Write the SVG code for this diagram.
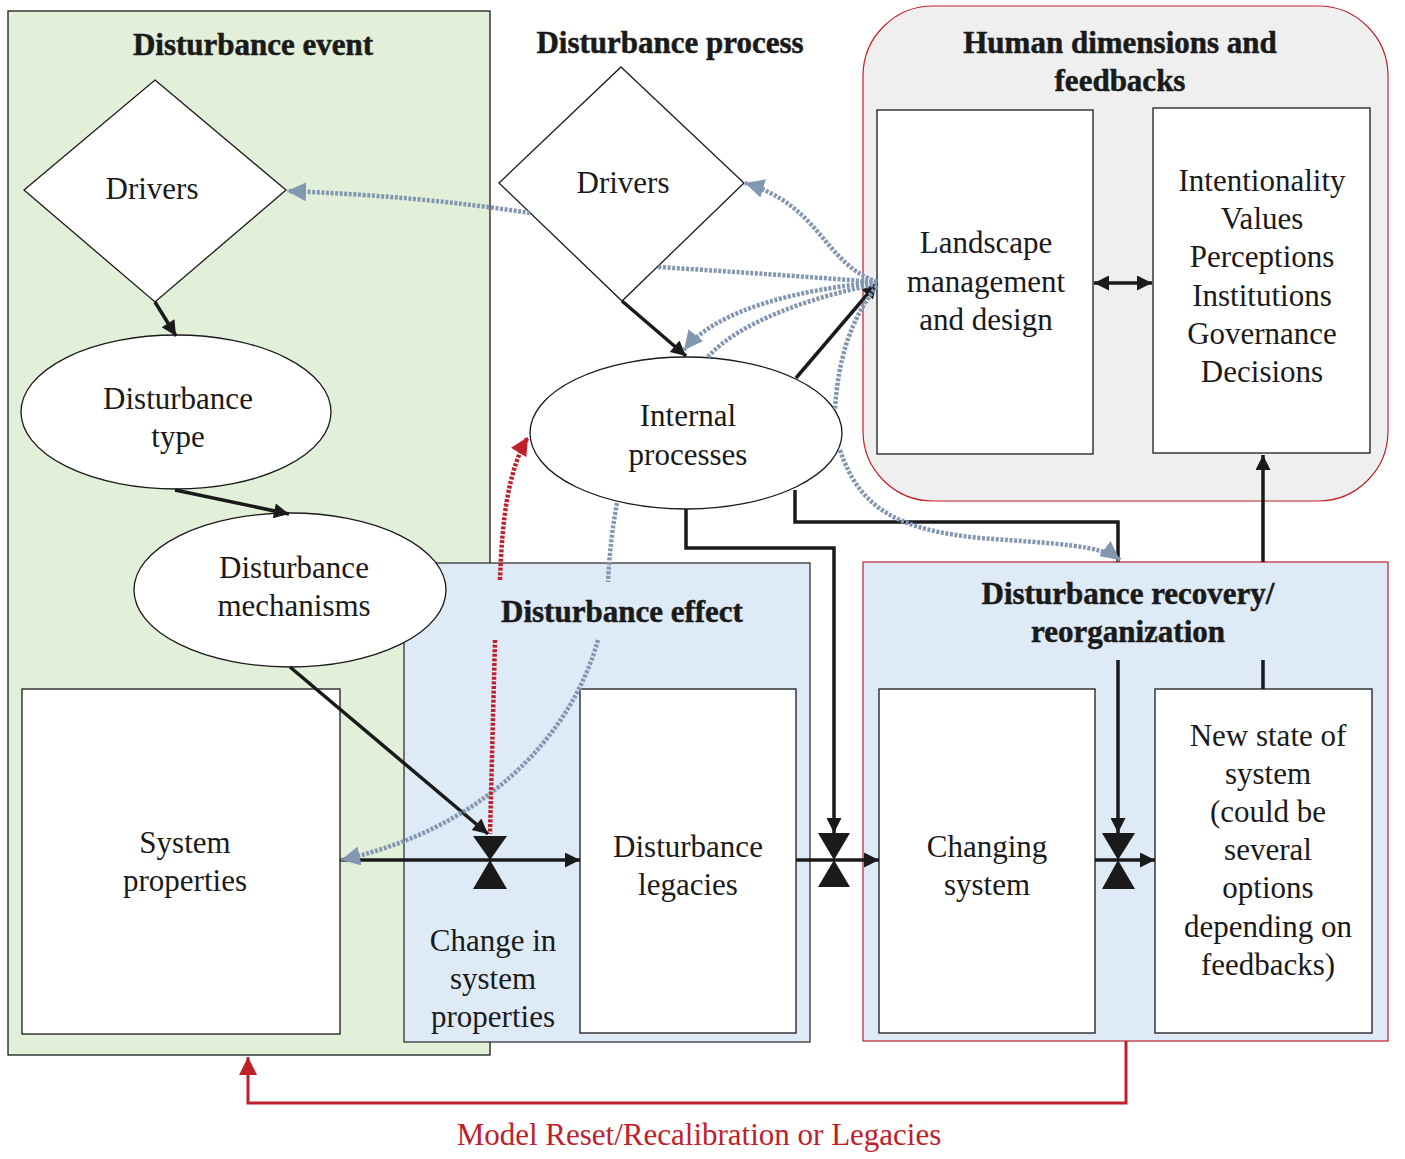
<svg xmlns="http://www.w3.org/2000/svg" width="1405" height="1159" viewBox="0 0 1405 1159">
<style>
text{font-family:"Liberation Serif","Times New Roman",serif;font-size:31px;fill:#1a1a1a;text-anchor:middle}
.t{font-weight:bold;stroke:#1a1a1a;stroke-width:0.5}
.red{fill:#c0202a}
.node{fill:#fff;stroke:#1a1a1a;stroke-width:1.3}
.blk{fill:none;stroke:#1a1a1a;stroke-width:3.5}
.dot{fill:none;stroke:#8497b0;stroke-width:4.5;stroke-dasharray:3 1.6}
.rdot{fill:none;stroke:#c0202a;stroke-width:4.5;stroke-dasharray:3 1.6}
.valve{fill:#1a1a1a}
</style>
<defs>
<marker id="ab" viewBox="0 0 10 10" refX="10" refY="5" markerWidth="17" markerHeight="15" markerUnits="userSpaceOnUse" orient="auto-start-reverse"><path d="M0,0 L10,5 L0,10 z" fill="#1a1a1a"/></marker>
<marker id="abl" viewBox="0 0 10 10" refX="10" refY="5" markerWidth="19" markerHeight="19" markerUnits="userSpaceOnUse" orient="auto"><path d="M0,0 L10,5 L0,10 z" fill="#8497b0"/></marker>
<marker id="ar" viewBox="0 0 10 10" refX="10" refY="5" markerWidth="19" markerHeight="18" markerUnits="userSpaceOnUse" orient="auto"><path d="M0,0 L10,5 L0,10 z" fill="#c0202a"/></marker>
</defs>

<g id="group-event">
<rect x="8" y="11" width="482" height="1044" fill="#e2efd9" stroke="#1a1a1a" stroke-width="1.3"/>
<text class="t" x="253" y="55">Disturbance event</text>
</g>
<g id="group-process-title"><text class="t" x="670" y="53">Disturbance process</text></g>
<g id="group-human">
<rect x="863" y="6" width="525" height="495" rx="70" fill="#efefef" stroke="#c0202a" stroke-width="1.2"/>
<text class="t" x="1120" y="53">Human dimensions and</text>
<text class="t" x="1120" y="91">feedbacks</text>
</g>
<g id="group-effect">
<rect x="404" y="563" width="406" height="479" fill="#deebf7" stroke="#333" stroke-width="1.3"/>
<text class="t" x="622" y="622">Disturbance effect</text>
</g>
<g id="group-recovery">
<rect x="863" y="562" width="525" height="479" fill="#deebf7" stroke="#c0202a" stroke-width="1.2"/>
<text class="t" x="1128" y="604">Disturbance recovery/</text>
<text class="t" x="1128" y="642">reorganization</text>
</g>

<g id="drivers-event">
<polygon class="node" points="155,80 286,190 155,302 24,190"/>
<text x="152" y="199">Drivers</text>
</g>
<g id="drivers-process">
<polygon class="node" points="621,67 744,183 622,301 499,183"/>
<text x="623" y="193">Drivers</text>
</g>
<g id="disturbance-type">
<ellipse class="node" cx="176" cy="412" rx="155" ry="77"/>
<text x="178" y="409">Disturbance</text>
<text x="178" y="447">type</text>
</g>
<g id="disturbance-mechanisms">
<ellipse class="node" cx="290" cy="590" rx="156" ry="77"/>
<text x="294" y="578">Disturbance</text>
<text x="294" y="616">mechanisms</text>
</g>
<g id="internal-processes">
<ellipse class="node" cx="686" cy="433" rx="156" ry="76"/>
<text x="688" y="426">Internal</text>
<text x="688" y="465">processes</text>
</g>
<g id="system-properties">
<rect class="node" x="22" y="689" width="318" height="345"/>
<text x="185" y="853">System</text>
<text x="185" y="891">properties</text>
</g>
<g id="disturbance-legacies">
<rect class="node" x="580" y="689" width="216" height="344"/>
<text x="688" y="857">Disturbance</text>
<text x="688" y="895">legacies</text>
</g>
<g id="change-label">
<text x="493" y="951">Change in</text>
<text x="493" y="989">system</text>
<text x="493" y="1027">properties</text>
</g>
<g id="changing-system">
<rect class="node" x="879" y="689" width="216" height="344"/>
<text x="987" y="857">Changing</text>
<text x="987" y="895">system</text>
</g>
<g id="new-state">
<rect class="node" x="1155" y="689" width="217" height="344"/>
<text x="1268" y="746">New state of</text>
<text x="1268" y="784">system</text>
<text x="1268" y="822">(could be</text>
<text x="1268" y="860">several</text>
<text x="1268" y="898">options</text>
<text x="1268" y="937">depending on</text>
<text x="1268" y="975">feedbacks)</text>
</g>
<g id="landscape">
<rect class="node" x="877" y="110" width="216" height="344"/>
<text x="986" y="253">Landscape</text>
<text x="986" y="292">management</text>
<text x="986" y="330">and design</text>
</g>
<g id="intentionality">
<rect class="node" x="1153" y="108" width="217" height="345"/>
<text x="1262" y="191">Intentionality</text>
<text x="1262" y="229">Values</text>
<text x="1262" y="267">Perceptions</text>
<text x="1262" y="306">Institutions</text>
<text x="1262" y="344">Governance</text>
<text x="1262" y="382">Decisions</text>
</g>

<g id="connectors">
<path class="blk" d="M155,302 L176,336" marker-end="url(#ab)"/>
<path class="blk" d="M175,490 L289,514" marker-end="url(#ab)"/>
<path class="blk" d="M290,667 L488,834" marker-end="url(#ab)"/>
<path class="blk" d="M340,860 L580,860" marker-end="url(#ab)" stroke-width="3"/>
<path class="blk" d="M686,509 L686,548 L834,548 L834,833" marker-end="url(#ab)"/>
<path class="blk" d="M796,860 L879,860" marker-end="url(#ab)" stroke-width="3"/>
<path class="blk" d="M1118,660 L1118,833" marker-end="url(#ab)"/>
<path class="blk" d="M1095,860 L1155,860" marker-end="url(#ab)" stroke-width="3"/>
<path class="blk" d="M622,301 L686,356" marker-end="url(#ab)"/>
<path class="blk" d="M796,378 L877,283" marker-end="url(#ab)"/>
<path class="blk" d="M795,490 L795,522 L1118,522 L1118,562"/>
<path class="blk" d="M1094,283 L1152,283" marker-start="url(#ab)" marker-end="url(#ab)"/>
<path class="blk" d="M1263,562 L1263,455" marker-end="url(#ab)"/>
<path class="blk" d="M1263,660 L1263,689"/>
<polygon class="valve" points="473,836 507,836 490,860"/>
<polygon class="valve" points="473,889 507,889 490,860"/>
<polygon class="valve" points="818,833 850,833 834,860"/>
<polygon class="valve" points="818,887 850,887 834,860"/>
<polygon class="valve" points="1102,833 1135,833 1118,860"/>
<polygon class="valve" points="1102,889 1135,889 1118,860"/>
<path d="M1126,1041 L1126,1103 L248,1103 L248,1057" fill="none" stroke="#c0202a" stroke-width="3" marker-end="url(#ar)"/>
<path class="dot" d="M530,213 Q420,196 287,191" marker-end="url(#abl)"/>
<path class="dot" d="M877,282 C822,262 822,206 745,183" marker-end="url(#abl)"/>
<path class="dot" d="M877,282 Q770,274 658,267"/>
<path class="dot" d="M877,282 C800,290 718,308 684,350" marker-end="url(#abl)"/>
<path class="dot" d="M708,357 C740,320 820,295 877,284"/>
<path class="dot" d="M877,286 C850,320 838,360 835,410"/>
<path class="dot" d="M840,450 C860,510 900,530 980,538 C1060,544 1100,545 1120,560" marker-end="url(#abl)"/>
<path class="dot" d="M617,503 Q610,540 608,582"/>
<path class="dot" d="M598,640 C570,740 480,830 341,860" marker-end="url(#abl)"/>
<path class="rdot" d="M495,640 L490,834"/>
<path class="rdot" d="M500,580 C502,520 508,470 528,437" marker-end="url(#ar)"/>
</g>
<g id="feedback-label"><text class="red" x="699" y="1145" font-size="32">Model Reset/Recalibration or Legacies</text></g>
</svg>
